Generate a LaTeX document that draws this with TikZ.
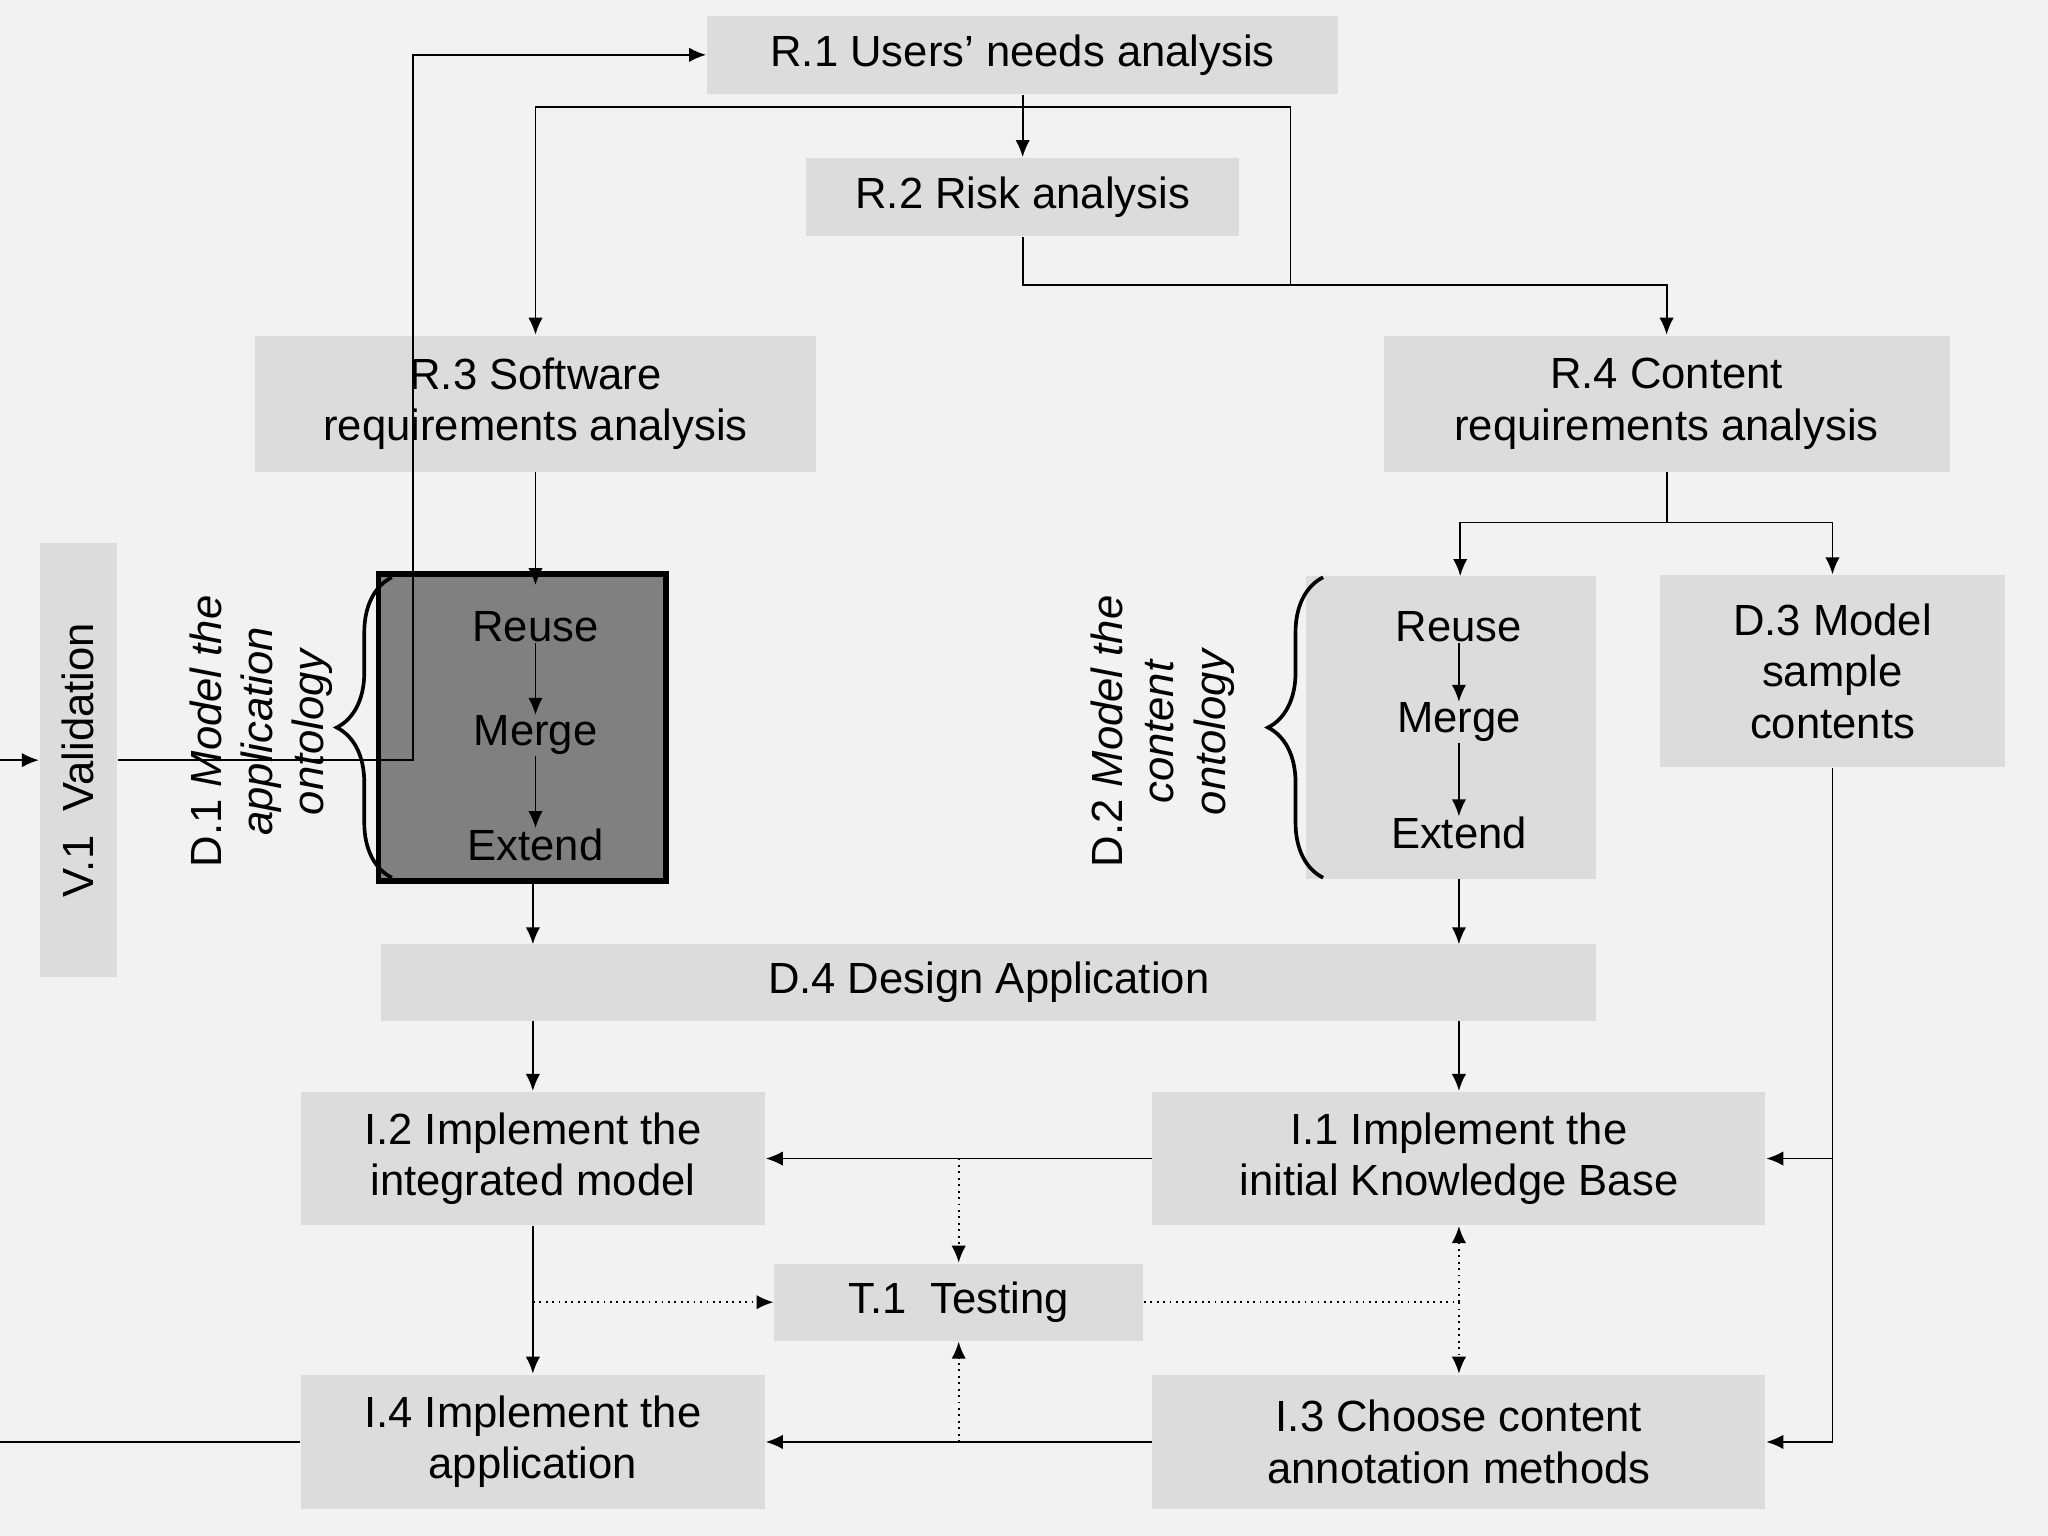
\documentclass[tikz,border=0pt]{standalone}
\usepackage{fontspec}
\setmainfont{Liberation Sans}
\usetikzlibrary{arrows.meta,decorations.pathreplacing}

\tikzset{
  box/.style={fill=boxgray,draw=none,align=center,inner sep=0pt,font=\fontsize{9.5}{11.2}\selectfont},
  flow/.style={-{Latex[length=1.3mm,width=1.1mm]},thin},
  test/.style={flow,densely dotted},
  step label/.style={font=\fontsize{9.5}{11.2}\selectfont,inner sep=0pt}
}
\definecolor{boxgray}{HTML}{DCDCDC}
\definecolor{bggray}{HTML}{F2F2F2}
\definecolor{darkbox}{HTML}{808080}

\begin{document}
\begin{tikzpicture}[x=0.01cm,y=-0.01cm]
\fill[bggray] (0,0) rectangle (1568,1176);
\useasboundingbox (0,0) rectangle (1568,1176);

% requirements
\node[box,minimum width=4.83cm,minimum height=0.6cm] (r1) at (783,42) {R.1 Users’ needs analysis};
\node[box,minimum width=3.31cm,minimum height=0.6cm] (r2) at (783,151) {R.2 Risk analysis};
\node[box,minimum width=4.30cm,minimum height=1.04cm] (r3) at (410,309) {R.3 Software\\requirements analysis};
\node[box,minimum width=4.33cm,minimum height=1.04cm] (r4) at (1276,309) {R.4 Content\\requirements analysis};

% validation
\node[box,minimum width=3.32cm,minimum height=0.59cm,rotate=90] (v1) at (60,582) {V.1\ \ Validation};

% design
\node[fill=darkbox,draw=black,very thick,minimum width=2.2cm,minimum height=2.35cm] (d1) at (400,557) {};
\node[box,minimum width=2.22cm,minimum height=2.32cm] (d2) at (1111,557) {};
\node[box,minimum width=2.64cm,minimum height=1.47cm] (d3) at (1403,514) {D.3 Model\\sample\\contents};
\node[box,minimum width=9.30cm,minimum height=0.59cm] (d4) at (757,752) {D.4 Design Application};

\node[step label] (reuse1) at (410,480) {Reuse};
\node[step label] (merge1) at (410,563) {Merge};
\node[step label] (extend1) at (410,647) {Extend};
\node[step label] (reuse2) at (1117,480) {Reuse};
\node[step label] (merge2) at (1117,553) {Merge};
\node[step label] (extend2) at (1117,638) {Extend};
\draw[flow] (reuse1) -- (merge1);
\draw[flow] (merge1) -- (extend1);
\draw[flow] (reuse2) -- (merge2);
\draw[flow] (merge2) -- (extend2);

\draw[thick,decorate,decoration={brace,amplitude=12pt}] (300,672) -- (300,442);
\draw[thick,decorate,decoration={brace,amplitude=12pt}] (1013,672) -- (1013,442);
\node[step label,rotate=90,align=center] (d1lbl) at (200,560) {D.1 \textit{Model the}\\\textit{application}\\\textit{ontology}};
\node[step label,rotate=90,align=center] (d2lbl) at (890,560) {D.2 \textit{Model the}\\\textit{content}\\\textit{ontology}};

% implementation and testing
\node[box,minimum width=3.55cm,minimum height=1.02cm] (i2) at (408,887) {I.2 Implement the\\integrated model};
\node[box,minimum width=4.69cm,minimum height=1.02cm] (i1) at (1117,887) {I.1 Implement the\\initial Knowledge Base};
\node[box,minimum width=2.82cm,minimum height=0.59cm] (t1) at (734,997) {T.1\ \ Testing};
\node[box,minimum width=3.55cm,minimum height=1.03cm] (i4) at (408,1104) {I.4 Implement the\\application};
\node[box,minimum width=4.69cm,minimum height=1.03cm] (i3) at (1117,1104) {I.3 Choose content\\annotation methods};

% connectors
\coordinate (in) at (0,582);
\coordinate (out) at (0,1104);
\draw[flow] (in) -- (v1.north);
\draw[flow] (v1.south) -- (316,582) -- (316,42) -- (r1.west);
\draw[flow] (r1.south) -- (r2.north);
\draw[flow] (988,218) -- (988,82) -- (410,82) -- (r3.north);
\draw[flow] (r2.south) -- (783,218) -- (1276,218) -- (r4.north);
\draw[flow] (r3.south) -- (410,448);
\draw[flow] (r4.south) -- (1276,400) -- (1118,400) -- (1118,441);
\draw[flow] (1276,400) -- (1403,400) -- (d3.north);
\draw[flow] (408,675) -- (408,723);
\draw[flow] (1117,673) -- (1117,723);
\draw[flow] (408,782) -- (i2.north);
\draw[flow] (1117,782) -- (i1.north);
\draw[flow] (i1.west) -- (i2.east);
\draw[flow] (d3.south) -- (1403,887) -- (i1.east);
\draw[flow] (1403,887) -- (1403,1104) -- (i3.east);
\draw[flow] (i2.south) -- (i4.north);
\draw[flow] (i3.west) -- (i4.east);
\draw (i4.west) -- (out);
\draw[test] (734,887) -- (t1.north);
\draw[test] (408,997) -- (t1.west);
\draw[test] (734,1104) -- (t1.south);
\draw[densely dotted] (t1.east) -- (1117,997);
\draw[test] (1117,997) -- (i1.south);
\draw[test] (1117,997) -- (i3.north);
\end{tikzpicture}
\end{document}
